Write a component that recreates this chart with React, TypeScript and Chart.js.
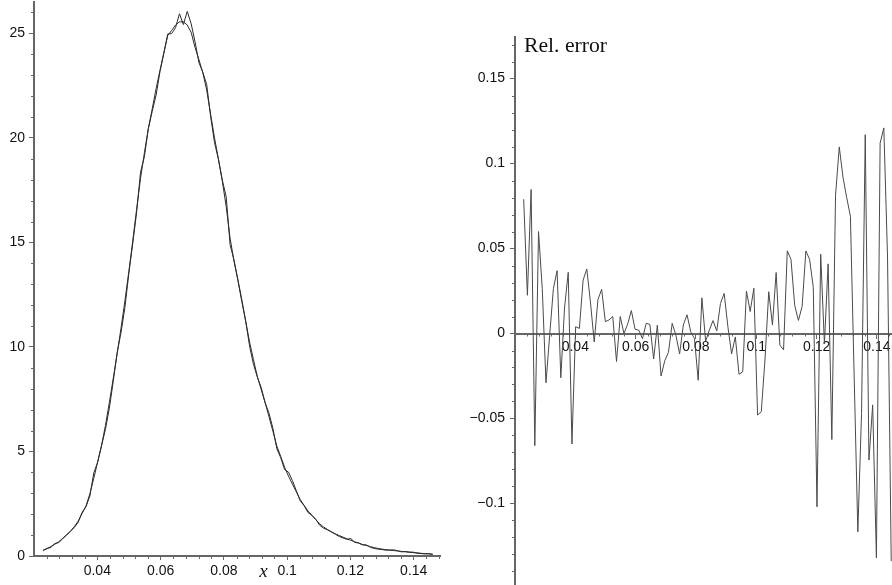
import React, { useEffect, useRef } from 'react';
import { Chart, registerables } from 'chart.js';

Chart.register(...registerables);

// ---------------- data ----------------
const X_VALUES = [
  0.02288, 0.02411, 0.02534, 0.02657, 0.0278, 0.02904, 0.03027, 0.0315, 0.03273, 0.03396,
  0.03519, 0.03642, 0.03765, 0.03888, 0.04011, 0.04135, 0.04258, 0.04381, 0.04504, 0.04627,
  0.0475, 0.04873, 0.04996, 0.05119, 0.05242, 0.05366, 0.05489, 0.05612, 0.05735, 0.05858,
  0.05981, 0.06104, 0.06227, 0.0635, 0.06473, 0.06597, 0.0672, 0.06843, 0.06966, 0.07089,
  0.07212, 0.07335, 0.07458, 0.07581, 0.07704, 0.07828, 0.07951, 0.08074, 0.08197, 0.0832,
  0.08443, 0.08566, 0.08689, 0.08812, 0.08935, 0.09059, 0.09182, 0.09305, 0.09428, 0.09551,
  0.09674, 0.09797, 0.0992, 0.10043, 0.10166, 0.1029, 0.10413, 0.10536, 0.10659, 0.10782,
  0.10905, 0.11028, 0.11151, 0.11274, 0.11397, 0.11521, 0.11644, 0.11767, 0.1189, 0.12013,
  0.12136, 0.12259, 0.12382, 0.12505, 0.12628, 0.12752, 0.12875, 0.12998, 0.13121, 0.13244,
  0.13367, 0.1349, 0.13613, 0.13736, 0.13859, 0.13983, 0.14106, 0.14229, 0.14352, 0.14475,
  0.14598,
];

const EXACT_DENSITY = [
  0.28, 0.36, 0.45, 0.56, 0.68, 0.84, 0.99, 1.18, 1.4, 1.67,
  2.03, 2.39, 2.97, 3.71, 4.5, 5.29, 6.25, 7.34, 8.5, 9.67,
  10.9, 12.2, 13.6, 15.05, 16.58, 18.06, 19.29, 20.44, 21.38, 22.35,
  23.23, 24.09, 24.9, 25.14, 25.4, 25.55, 25.55, 25.4, 25.05, 24.33,
  23.74, 23.12, 22.28, 21.14, 20.0, 18.99, 17.93, 16.71, 15.2, 14.1,
  13.22, 12.27, 11.25, 10.23, 9.39, 8.58, 7.95, 7.32, 6.66, 5.96,
  5.26, 4.76, 4.24, 3.82, 3.44, 3.07, 2.7, 2.42, 2.15, 1.94,
  1.74, 1.54, 1.39, 1.27, 1.16, 1.06, 0.98, 0.9, 0.82, 0.75,
  0.68, 0.62, 0.55, 0.5, 0.45, 0.4, 0.36, 0.33, 0.3, 0.28,
  0.26, 0.24, 0.22, 0.2, 0.18, 0.16, 0.15, 0.13, 0.11, 0.1,
  0.08,
];

const SAMPLE_DENSITY = [
  0.26, 0.352, 0.415, 0.6, 0.64, 0.818, 1.02, 1.18, 1.364, 1.61,
  2.084, 2.355, 2.867, 3.968, 4.482, 5.274, 6.06, 7.07, 8.35, 9.72,
  10.69, 11.89, 13.5, 14.93, 16.42, 18.36, 19.1, 20.44, 21.26, 22.05,
  23.17, 24.04, 24.97, 24.99, 25.27, 25.94, 25.42, 26.05, 25.46, 24.6,
  23.6, 23.14, 22.55, 21.03, 19.78, 18.97, 17.98, 17.18, 14.89, 14.16,
  13.19, 12.18, 11.23, 10.05, 9.17, 8.55, 8.05, 7.33, 6.82, 6.1,
  5.13, 4.7, 4.13, 4.01, 3.61, 3.12, 2.635, 2.41, 2.075, 1.953,
  1.757, 1.468, 1.332, 1.249, 1.151, 1.043, 0.935, 0.862, 0.798, 0.835,
  0.65, 0.624, 0.528, 0.533, 0.416, 0.36, 0.33, 0.306, 0.281, 0.287,
  0.294, 0.252, 0.197, 0.216, 0.188, 0.184, 0.135, 0.116, 0.105, 0.115,
  0.08,
];

const REL_ERROR = [
  0.079, 0.0225, 0.0847, -0.066, 0.06, 0.0265, -0.029, -0.001, 0.0265, 0.037,
  -0.026, 0.015, 0.036, -0.065, 0.004, 0.003, 0.0314, 0.038, 0.018, -0.005,
  0.02, 0.026, 0.007, 0.008, 0.01, -0.0165, 0.01, 0.0, 0.0055, 0.0135,
  0.0025, 0.002, -0.003, 0.006, 0.0053, -0.015, 0.005, -0.025, -0.016, -0.011,
  0.006, -0.001, -0.012, 0.005, 0.011, 0.001, -0.003, -0.0275, 0.021, -0.0045,
  0.002, 0.0076, 0.0015, 0.0177, 0.0236, 0.004, -0.012, -0.002, -0.024, -0.0225,
  0.025, 0.013, 0.0266, -0.048, -0.046, -0.015, 0.0246, 0.005, 0.0359, -0.0068,
  -0.0096, 0.0487, 0.0436, 0.0165, 0.0077, 0.016, 0.0486, 0.0437, 0.0272, -0.102,
  0.0467, -0.006, 0.041, -0.0624, 0.0814, 0.1098, 0.092, 0.08, 0.069, -0.024,
  -0.1167, -0.047, 0.117, -0.0745, -0.042, -0.132, 0.112, 0.121, 0.045, -0.134,
];

const LEFT_X_TICKS = [0.04, 0.06, 0.08, 0.1, 0.12, 0.14];
const LEFT_Y_TICKS = [0, 5, 10, 15, 20, 25];
const RIGHT_X_TICKS = [0.04, 0.06, 0.08, 0.1, 0.12, 0.14];
const RIGHT_Y_TICKS = [-0.1, -0.05, 0, 0.05, 0.1, 0.15];

const X_AXIS_LABEL = 'x';
const ERROR_LABEL = 'Rel. error';

// ---------------- styling ----------------
const AXIS_COLOR = '#666';
const TEXT_COLOR = '#111';
const TICK_FONT = { family: "'Liberation Sans', Arial, sans-serif", size: 14 };

const fmt = (v: number) => String(parseFloat(Number(v).toFixed(4))).replace('-', '\u2212');

function range(from: number, to: number, step: number, skipEvery: number) {
  const out: number[] = [];
  for (let k = from; k <= to; k++) {
    if (k % skipEvery === 0) continue;
    out.push(k * step);
  }
  return out;
}

function minorTicks(cfg: { xMinor: number[]; yMinor: number[]; xAxisAt: number | null; len: number }) {
  return {
    id: 'minorTicks',
    beforeDatasetsDraw(chart: any) {
      const { ctx, chartArea, scales } = chart;
      const xs = scales.x;
      const ys = scales.y;
      ctx.save();
      ctx.strokeStyle = AXIS_COLOR;
      ctx.lineWidth = 1;
      ctx.beginPath();
      const ax = chartArea.left;
      for (const v of cfg.yMinor) {
        const p = Math.round(ys.getPixelForValue(v)) + 0.5;
        if (p < chartArea.top || p > chartArea.bottom) continue;
        ctx.moveTo(ax - cfg.len - 1, p);
        ctx.lineTo(ax, p);
      }
      const ay = cfg.xAxisAt === null ? chartArea.bottom : ys.getPixelForValue(cfg.xAxisAt);
      for (const v of cfg.xMinor) {
        const p = Math.round(xs.getPixelForValue(v)) + 0.5;
        if (p < chartArea.left || p > chartArea.right) continue;
        ctx.moveTo(p, ay);
        ctx.lineTo(p, ay + cfg.len + 1);
      }
      ctx.stroke();
      ctx.restore();
    },
  };
}

function axisCommon(tickLength: number, padding: number) {
  return {
    grid: {
      display: true,
      drawOnChartArea: false,
      drawTicks: true,
      tickLength,
      tickColor: AXIS_COLOR,
      tickWidth: 1,
    },
    border: { display: true, color: AXIS_COLOR, width: 2 },
    ticks: {
      font: TICK_FONT,
      color: TEXT_COLOR,
      padding,
      autoSkip: false,
      maxRotation: 0,
      callback: (v: any) => fmt(v),
    },
  };
}

export default function App() {
  const leftRef = useRef<HTMLCanvasElement>(null);
  const rightRef = useRef<HTMLCanvasElement>(null);

  useEffect(() => {
    const exactPts = X_VALUES.map((x, i) => ({ x, y: EXACT_DENSITY[i] }));
    const samplePts = X_VALUES.map((x, i) => ({ x, y: SAMPLE_DENSITY[i] }));
    const errPts = REL_ERROR.map((y, i) => ({ x: X_VALUES[i], y }));

    const leftX = axisCommon(4, 3);
    const leftY = axisCommon(5, 4);
    const left = new Chart(leftRef.current as HTMLCanvasElement, {
      type: 'line',
      data: {
        datasets: [
          { data: exactPts, borderColor: '#2b2b2b', borderWidth: 1, pointRadius: 0, tension: 0, fill: false },
          { data: samplePts, borderColor: '#2b2b2b', borderWidth: 1, pointRadius: 0, tension: 0, fill: false },
        ],
      },
      options: {
        responsive: false,
        animation: false,
        devicePixelRatio: 1,
        layout: { padding: { left: 0, top: 2, right: 10, bottom: 0 } },
        plugins: { legend: { display: false }, tooltip: { enabled: false } },
        scales: {
          x: {
            type: 'linear',
            position: 'bottom',
            min: 0.02,
            max: 0.1483,
            ...leftX,
            afterBuildTicks: (s: any) => { s.ticks = LEFT_X_TICKS.map((value) => ({ value })); },
            afterFit: (s: any) => { s.height = 29; s.paddingLeft = 0; s.paddingRight = 0; },
          },
          y: {
            type: 'linear',
            position: 'left',
            min: 0,
            max: 26.5,
            ...leftY,
            afterBuildTicks: (s: any) => { s.ticks = LEFT_Y_TICKS.map((value) => ({ value })); },
            afterFit: (s: any) => { s.width = 34; s.paddingTop = 0; s.paddingBottom = 0; },
          },
        },
      } as any,
      plugins: [
        minorTicks({ xMinor: range(6, 37, 0.004, 5), yMinor: range(1, 26, 1, 5), xAxisAt: null, len: 2 }),
        {
          id: 'xLabel',
          afterDraw(chart: any) {
            const { ctx, chartArea, scales } = chart;
            ctx.save();
            ctx.font = "italic 19px 'Liberation Serif', 'Times New Roman', serif";
            ctx.fillStyle = TEXT_COLOR;
            ctx.textAlign = 'left';
            ctx.textBaseline = 'alphabetic';
            ctx.fillText(X_AXIS_LABEL, scales.x.getPixelForValue(0.0912), chartArea.bottom + 21);
            ctx.restore();
          },
        },
      ],
    });

    const rightX = axisCommon(4, 1);
    const rightY = axisCommon(5, 5);
    const right = new Chart(rightRef.current as HTMLCanvasElement, {
      type: 'line',
      data: {
        datasets: [
          { data: errPts, borderColor: '#4a4a4a', borderWidth: 1, pointRadius: 0, tension: 0, fill: false },
        ],
      },
      options: {
        responsive: false,
        animation: false,
        devicePixelRatio: 1,
        layout: { padding: { left: 0, top: 37, right: 0, bottom: 0 } },
        plugins: { legend: { display: false }, tooltip: { enabled: false } },
        scales: {
          x: {
            type: 'linear',
            position: { y: 0 },
            min: 0.02,
            max: 0.145,
            ...rightX,
            afterBuildTicks: (s: any) => { s.ticks = RIGHT_X_TICKS.map((value) => ({ value })); },
            afterFit: (s: any) => { s.height = 0; s.paddingLeft = 0; s.paddingRight = 0; },
          },
          y: {
            type: 'linear',
            position: 'left',
            min: -0.148,
            max: 0.1745,
            ...rightY,
            afterBuildTicks: (s: any) => { s.ticks = RIGHT_Y_TICKS.map((value) => ({ value })); },
            afterFit: (s: any) => { s.width = 65; s.paddingTop = 0; s.paddingBottom = 0; },
          },
        },
      } as any,
      plugins: [
        minorTicks({ xMinor: range(6, 36, 0.004, 5), yMinor: range(-14, 17, 0.01, 5), xAxisAt: 0, len: 2 }),
        {
          id: 'errLabel',
          afterDraw(chart: any) {
            const { ctx, chartArea } = chart;
            ctx.save();
            ctx.font = "21.7px 'Liberation Serif', 'Times New Roman', serif";
            ctx.fillStyle = TEXT_COLOR;
            ctx.textAlign = 'left';
            ctx.textBaseline = 'alphabetic';
            ctx.fillText(ERROR_LABEL, chartArea.left + 9, chartArea.top + 15);
            ctx.restore();
          },
        },
      ],
    });

    return () => {
      left.destroy();
      right.destroy();
    };
  }, []);

  return (
    <div style={{ position: 'fixed', left: 0, top: 0, width: 892, height: 585, background: '#fff', overflow: 'hidden' }}>
      <canvas ref={leftRef} width={450} height={585} style={{ position: 'absolute', left: 0, top: 0 }} />
      <canvas ref={rightRef} width={442} height={585} style={{ position: 'absolute', left: 450, top: 0 }} />
    </div>
  );
}
